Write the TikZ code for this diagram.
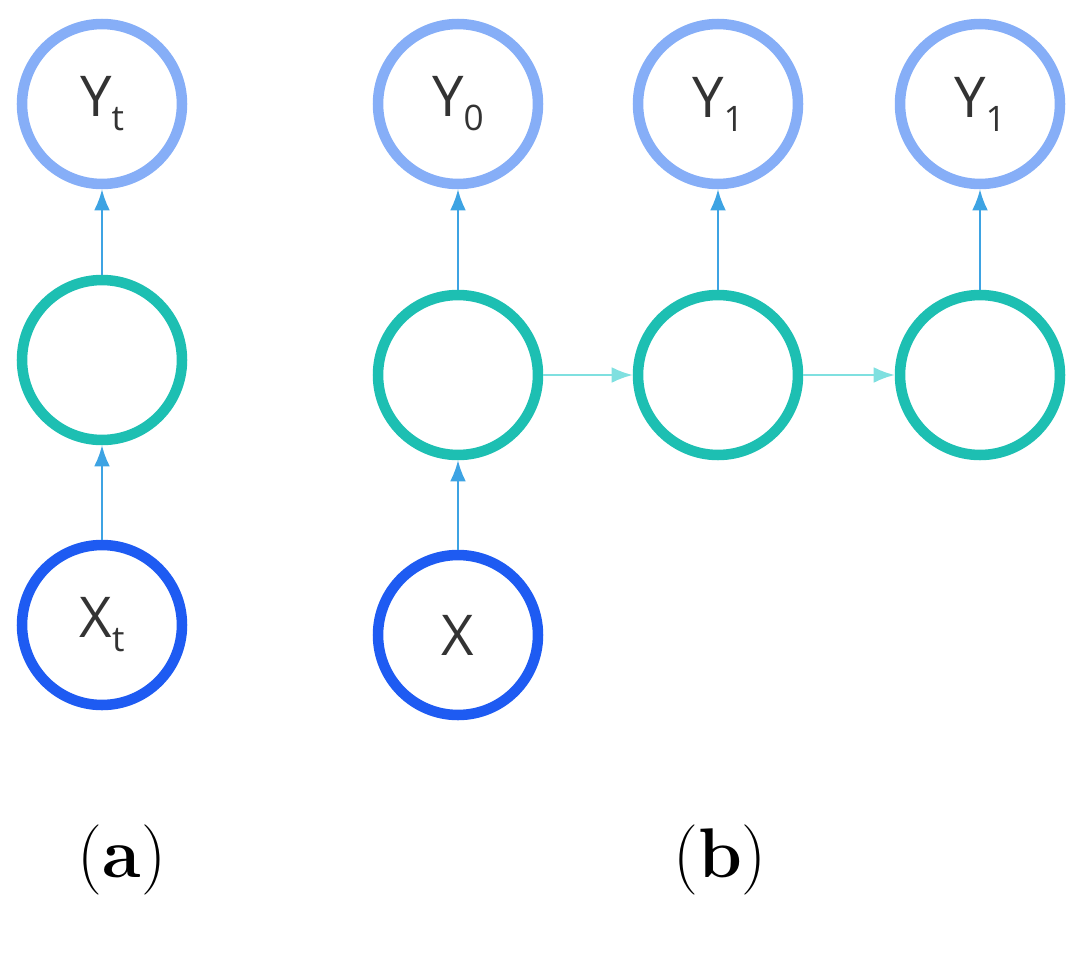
\documentclass[tikz,border=0pt]{standalone}
\usepackage{fontspec}
\newfontfamily\sansf{Open Sans}
\usetikzlibrary{arrows.meta}
\definecolor{ctop}{HTML}{86AEF7}
\definecolor{cmid}{HTML}{1DBFB2}
\definecolor{cbot}{HTML}{1E5BF2}
\definecolor{carr}{HTML}{3DA3E3}
\definecolor{carrh}{HTML}{7FE0E0}
\definecolor{ctxt}{HTML}{333333}
\newcommand{\sbx}[1]{\raisebox{-0.25em}{\fontsize{20}{24}\selectfont #1}}
\begin{document}
\begin{tikzpicture}[x=0.02cm,y=-0.02cm,
  nd/.style={circle,minimum size=3.2cm,inner sep=0pt,line width=6pt,text=ctxt,font=\sansf\fontsize{32}{36}\selectfont},
  top/.style={nd,draw=ctop},mid/.style={nd,draw=cmid},bot/.style={nd,draw=cbot},
  ar/.style={draw=carr,line width=1.2pt,-{Latex[length=12pt,width=9pt]}},
  arh/.style={draw=carrh,line width=1.2pt,-{Latex[length=12pt,width=9pt]}},
  lab/.style={font=\fontsize{40}{46}\selectfont}]
\useasboundingbox (0,0) rectangle (1076,957);
\node[top] (ya) at (102,104) {Y\sbx{t}};
\node[mid] (ha) at (102,360) {};
\node[bot] (xa) at (102,625) {X\sbx{t}};
\node[top] (y0) at (458,104) {Y\sbx{0}};
\node[top] (y1) at (718,104) {Y\sbx{1}};
\node[top] (y2) at (980,104) {Y\sbx{1}};
\node[mid] (h0) at (458,375) {};
\node[mid] (h1) at (718,375) {};
\node[mid] (h2) at (980,375) {};
\node[bot] (xb) at (458,635) {X};
\draw[ar] (xa) -- (ha);
\draw[ar] (ha) -- (ya);
\draw[ar] (xb) -- (h0);
\draw[ar] (h0) -- (y0);
\draw[ar] (h1) -- (y1);
\draw[ar] (h2) -- (y2);
\draw[arh] (h0) -- (h1);
\draw[arh] (h1) -- (h2);
\node[lab] (la) at (122,860) {(\textbf{a})};
\node[lab] (lb) at (720,860) {(\textbf{b})};
\end{tikzpicture}
\end{document}
